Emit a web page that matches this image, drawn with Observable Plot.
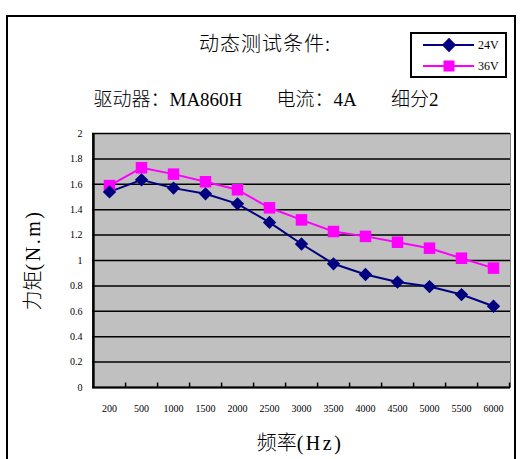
<!DOCTYPE html>
<html><head><meta charset="utf-8">
<script src="https://cdn.jsdelivr.net/npm/d3@7"></script>
<script src="https://cdn.jsdelivr.net/npm/@observablehq/plot@0.6"></script>
<style>
body{margin:0;background:#fff;}
#wrap{position:relative;width:528px;height:459px;overflow:hidden;background:#fff;}
#frame{position:absolute;left:6px;top:15px;width:510px;height:470px;border:2px solid #000;box-sizing:border-box;}
#chart{position:absolute;left:0;top:0;}
.t{position:absolute;white-space:pre;text-align:center;color:#000;line-height:1;font-weight:300;}
.ls{letter-spacing:2.5px;}
.sf{font-family:"Liberation Serif",serif;font-weight:400;}
#title{left:0;width:530px;top:33px;font-size:20px;letter-spacing:1px;font-family:"Noto Sans CJK SC",sans-serif;}
#sub{left:0;width:532px;top:90px;font-size:19px;font-family:"Liberation Mono","Noto Sans CJK SC",monospace;}
#ylab{left:33px;top:260px;font-size:20px;font-family:"Liberation Serif","Noto Sans CJK SC",serif;transform:translate(-50%,-50%) rotate(-90deg);}
#xlab{left:300px;top:443px;font-size:20px;font-family:"Liberation Serif","Noto Sans CJK SC",serif;transform:translate(-50%,-50%);}
#legend{position:absolute;left:410px;top:32px;width:97px;height:46px;border:2px solid #000;box-sizing:border-box;background:#fff;}
</style></head>
<body>
<div id="wrap">
  <div id="frame"></div>
  <div id="chart"></div>
  <div id="title" class="t">动态测试条件:</div>
  <div id="sub" class="t">驱动器：<span class="sf">MA860H</span>   电流：<span class="sf">4A</span>   细分<span class="sf">2</span></div>
  <div id="ylab" class="t">力矩<span class="ls">(N.m)</span></div>
  <div id="xlab" class="t">频率<span class="ls">(Hz)</span></div>
  <div id="legend"></div>
</div>
<script>
const freqs = ["200","500","1000","1500","2000","2500","3000","3500","4000","4500","5000","5500","6000"];
const v24 = [1.54,1.635,1.57,1.525,1.446,1.30,1.13,0.974,0.89,0.83,0.795,0.732,0.64];
const v36 = [1.59,1.73,1.68,1.62,1.557,1.415,1.32,1.228,1.19,1.144,1.097,1.018,0.94];
const yTicks = [0,0.2,0.4,0.6,0.8,1,1.2,1.4,1.6,1.8,2];
const seriesNames = ["24V","36V"];
const seriesColors = ["#000080","#ff00ff"];

const data = [
  ...freqs.map((f,i)=>({freq:f, torque:v24[i], series:"24V"})),
  ...freqs.map((f,i)=>({freq:f, torque:v36[i], series:"36V"}))
];

const W = 528, H = 459, ML = 92, MR = 18, MT = 133, MB = 72;
const step = (W - ML - MR) / freqs.length;

const chart = Plot.plot({
  width: W, height: H,
  marginLeft: ML, marginRight: MR, marginTop: MT, marginBottom: MB,
  style: {fontFamily: "Liberation Serif, serif", fontSize: "10px", background: "transparent", color: "#000"},
  x: {type: "point", domain: freqs, padding: 0.5, label: null},
  y: {domain: [0, 2], label: null},
  color: {domain: seriesNames, range: seriesColors},
  marks: [
    Plot.frame({fill: "#c0c0c0", stroke: "#808080", strokeWidth: 1}),
    Plot.gridY(yTicks, {stroke: "#000", strokeOpacity: 1, strokeWidth: 1.5}),
    Plot.ruleX(freqs, {x: d => d, y1: 0, y2: 0.035, dx: step / 2, stroke: "#000", strokeWidth: 1.5}),
    Plot.ruleY([0], {stroke: "#000", strokeWidth: 2}),
    Plot.ruleX([freqs[0]], {dx: -step / 2, stroke: "#000", strokeWidth: 2.5}),
    Plot.axisY({ticks: yTicks, tickFormat: d => String(d), tickSize: 0, tickPadding: 10, label: null, fontSize: 10}),
    Plot.axisX({tickSize: 0, tickPadding: 17, label: null, fontSize: 10}),
    Plot.line(data, {x: "freq", y: "torque", z: "series", stroke: "series", strokeWidth: 2}),
    Plot.dot(data.filter(d => d.series === "36V"), {x: "freq", y: "torque", symbol: "square", fill: "#ff00ff", r: 6.5}),
    Plot.dot(data.filter(d => d.series === "24V"), {x: "freq", y: "torque", symbol: "diamond2", fill: "#000080", r: 6})
  ]
});
document.getElementById("chart").appendChild(chart);

// legend
const lg = d3.select("#legend").append("svg").attr("width", 93).attr("height", 42);
seriesNames.forEach((name, i) => {
  const y = 11 + i * 21;
  lg.append("line").attr("x1", 11).attr("x2", 62).attr("y1", y).attr("y2", y)
    .attr("stroke", seriesColors[i]).attr("stroke-width", 2);
  if (i === 0) {
    lg.append("path").attr("d", d3.symbol(d3.symbolDiamond2, 130)()).attr("transform", `translate(37,${y})`).attr("fill", seriesColors[i]);
  } else {
    lg.append("path").attr("d", d3.symbol(d3.symbolSquare, 121)()).attr("transform", `translate(37,${y})`).attr("fill", seriesColors[i]);
  }
  lg.append("text").attr("x", 66).attr("y", y + 4).text(name)
    .attr("font-family", "Liberation Serif, serif").attr("font-size", 12);
});
</script>
</body></html>
